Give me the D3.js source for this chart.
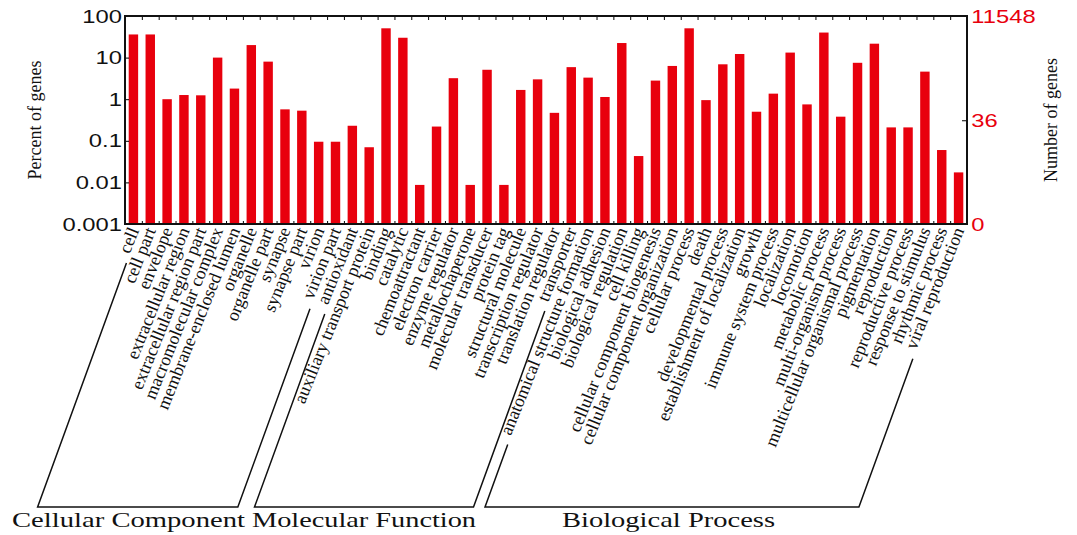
<!DOCTYPE html>
<html>
<head>
<meta charset="utf-8">
<script src="https://cdn.jsdelivr.net/npm/d3@7"></script>
<style>
	body { margin: 0; background: #fff; }
	.go-label { font-family: "Liberation Serif", "Times New Roman", serif; font-size: 18px; fill: #111; }
	.axis-title { font-family: "Liberation Serif", "Times New Roman", serif; font-size: 18px; fill: #111; }
	.group-title { font-family: "Liberation Serif", "Times New Roman", serif; font-size: 21px; fill: #111; }
	.axis text { font-family: "Liberation Sans", Arial, sans-serif; font-size: 19px; }
</style>
</head>
<body>
<div id="chart"></div>
<script>
//GO terms, in plotting order
var categories = [
	"cell", "cell part", "envelope", "extracellular region", "extracellular region part",
	"macromolecular complex", "membrane-enclosed lumen", "organelle", "organelle part",
	"synapse", "synapse part", "virion", "virion part",
	"antioxidant", "auxiliary transport protein", "binding", "catalytic", "chemoattractant",
	"electron carrier", "enzyme regulator", "metallochaperone", "molecular transducer",
	"protein tag", "structural molecule", "transcription regulator", "translation regulator",
	"transporter",
	"anatomical structure formation", "biological adhesion", "biological regulation",
	"cell killing", "cellular component biogenesis", "cellular component organization",
	"cellular process", "death", "developmental process", "establishment of localization",
	"growth", "immune system process", "localization", "locomotion", "metabolic process",
	"multi-organism process", "multicellular organismal process", "pigmentation",
	"reproduction", "reproductive process", "response to stimulus", "rhythmic process",
	"viral reproduction"
];

//Percent of genes
var percents = [
	36, 36, 1.0, 1.26, 1.24, 10, 1.8, 20, 8, 0.57, 0.53, 0.095, 0.095,
	0.23, 0.07, 50.6, 30, 0.0087, 0.22, 3.2, 0.0087, 5.1, 0.0087, 1.67, 3.0, 0.47, 5.9,
	3.3, 1.13, 22.4, 0.043, 2.8, 6.3, 50.6, 0.95, 6.9, 12.2, 0.5, 1.36, 13.2, 0.75, 40,
	0.38, 7.5, 21.6, 0.21, 0.21, 4.6, 0.06, 0.0174
];

var groupNames = ["Cellular Component", "Molecular Function", "Biological Process"];
var groupSizes = [13, 14, 23];

var leftTicks = [0.001, 0.01, 0.1, 1, 10, 100];
var rightTickCounts = [0, 36, 11548];
var totalGenes = 11548;

///////////////////////////////////////////////////////////////////////////
/////////////////////////////// Set-up SVG ////////////////////////////////
///////////////////////////////////////////////////////////////////////////

var width = 1077,
	height = 535;
var plot = { left: 125, right: 967, top: 16, bottom: 224 };
var red = "#e8000d";
var stretch = 1.25; //tick numbers are drawn wide

var svg = d3.select("#chart")
	.append("svg")
	.attr("width", width)
	.attr("height", height);

var x = d3.scaleBand()
	.domain(categories)
	.range([plot.left, plot.right])
	.paddingInner(0.44)
	.paddingOuter(0.22);

var y = d3.scaleLog()
	.domain([0.001, 100])
	.range([plot.bottom, plot.top]);

//boundaries between the bars, for the small frame ticks
var slot = d3.scaleLinear()
	.domain([0, categories.length])
	.range([plot.left, plot.right]);

///////////////////////////////////////////////////////////////////////////
///////////////////////////////// Bars ////////////////////////////////////
///////////////////////////////////////////////////////////////////////////

svg.append("g")
	.selectAll("rect")
	.data(categories)
	.enter().append("rect")
	.attr("x", function(d) { return x(d); })
	.attr("y", function(d, i) { return y(percents[i]); })
	.attr("width", x.bandwidth())
	.attr("height", function(d, i) { return plot.bottom - y(percents[i]); })
	.style("fill", red);

///////////////////////////////////////////////////////////////////////////
///////////////////////////////// Axes ////////////////////////////////////
///////////////////////////////////////////////////////////////////////////

svg.append("g")
	.attr("class", "axis")
	.attr("transform", "translate(" + plot.left + ",0)")
	.call(d3.axisLeft(y)
		.tickValues(leftTicks)
		.tickFormat(d3.format("~g"))
		.tickSizeInner(-4)
		.tickSizeOuter(0)
		.tickPadding(2.5))
	.call(function(g) {
		g.select(".domain").remove();
		g.selectAll("text").style("fill", "#111").attr("transform", "scale(" + stretch + ",1)");
	});

svg.append("g")
	.attr("class", "axis")
	.attr("transform", "translate(" + plot.right + ",0)")
	.call(d3.axisRight(y)
		.tickValues(rightTickCounts.map(function(c) { return Math.max(c / totalGenes * 100, 0.001); }))
		.tickFormat(function(d) { return Math.round(d * totalGenes / 100 - 0.2); })
		.tickSizeInner(-5)
		.tickSizeOuter(0)
		.tickPadding(3.5))
	.call(function(g) {
		g.select(".domain").remove();
		g.selectAll("text").style("fill", red).attr("transform", "scale(" + stretch + ",1)");
	});

//small ticks between bars, top and bottom
svg.append("g")
	.attr("transform", "translate(0," + plot.bottom + ")")
	.call(d3.axisTop(slot).tickValues(d3.range(1, categories.length)).tickSize(3).tickFormat(""))
	.call(function(g) { g.select(".domain").remove(); });

svg.append("g")
	.attr("transform", "translate(0," + plot.top + ")")
	.call(d3.axisBottom(slot).tickValues(d3.range(1, categories.length)).tickSize(4).tickFormat(""))
	.call(function(g) { g.select(".domain").remove(); });

//frame
svg.append("rect")
	.attr("x", plot.left)
	.attr("y", plot.top)
	.attr("width", plot.right - plot.left)
	.attr("height", plot.bottom - plot.top)
	.style("fill", "none")
	.style("stroke", "#111")
	.style("stroke-width", 2);

svg.append("text")
	.attr("class", "axis-title")
	.attr("transform", "translate(41," + ((plot.top + plot.bottom) / 2) + ") rotate(-90)")
	.style("text-anchor", "middle")
	.text("Percent of genes");

svg.append("text")
	.attr("class", "axis-title")
	.attr("transform", "translate(1057," + ((plot.top + plot.bottom) / 2) + ") rotate(-90)")
	.style("text-anchor", "middle")
	.text("Number of genes");

///////////////////////////////////////////////////////////////////////////
///////////////////////////// Term labels /////////////////////////////////
///////////////////////////////////////////////////////////////////////////

var textAngle = 68,
	lineAngle = 70,
	labelY = 228,
	bracketY = 507;

var labels = svg.append("g")
	.selectAll("text")
	.data(categories)
	.enter().append("text")
	.attr("class", "go-label")
	.attr("transform", function(d) {
		return "translate(" + (x(d) + x.bandwidth() / 2) + "," + labelY + ") rotate(" + (-textAngle) + ")";
	})
	.attr("dy", "0.35em")
	.style("text-anchor", "end")
	.text(function(d) { return d; });

//where the baseline of a label starts, in page coordinates
var rad = Math.PI / 180;
function labelStart(i) {
	var node = labels.nodes()[i];
	var len = node.getComputedTextLength();
	var fs = parseFloat(getComputedStyle(node).fontSize);
	var cx = x(categories[i]) + x.bandwidth() / 2 + 0.35 * fs * Math.sin(textAngle * rad);
	var cy = labelY + 0.35 * fs * Math.cos(textAngle * rad);
	return [cx - len * Math.cos(textAngle * rad), cy + len * Math.sin(textAngle * rad)];
}

function bracketSide(i) {
	var s = labelStart(i),
		gap = 9;
	var top = [s[0] - gap * Math.cos(lineAngle * rad), s[1] + gap * Math.sin(lineAngle * rad)];
	var bottom = [top[0] - (bracketY - top[1]) / Math.tan(lineAngle * rad), bracketY];
	return [top, bottom];
}

var start = 0;
var groupTitleX = [12, 252, 562],
	groupTitleW = [233, 224, 213];
groupSizes.forEach(function(n, gi) {
	var a = bracketSide(start),
		b = bracketSide(start + n - 1);
	svg.append("path")
		.attr("d", d3.line()([a[0], a[1], b[1], b[0]]))
		.style("fill", "none")
		.style("stroke", "#111")
		.style("stroke-width", 1.5);

	svg.append("text")
		.attr("class", "group-title")
		.attr("x", groupTitleX[gi])
		.attr("y", 527)
		.attr("textLength", groupTitleW[gi])
		.attr("lengthAdjust", "spacingAndGlyphs")
		.text(groupNames[gi]);

	start += n;
});
</script>
</body>
</html>
